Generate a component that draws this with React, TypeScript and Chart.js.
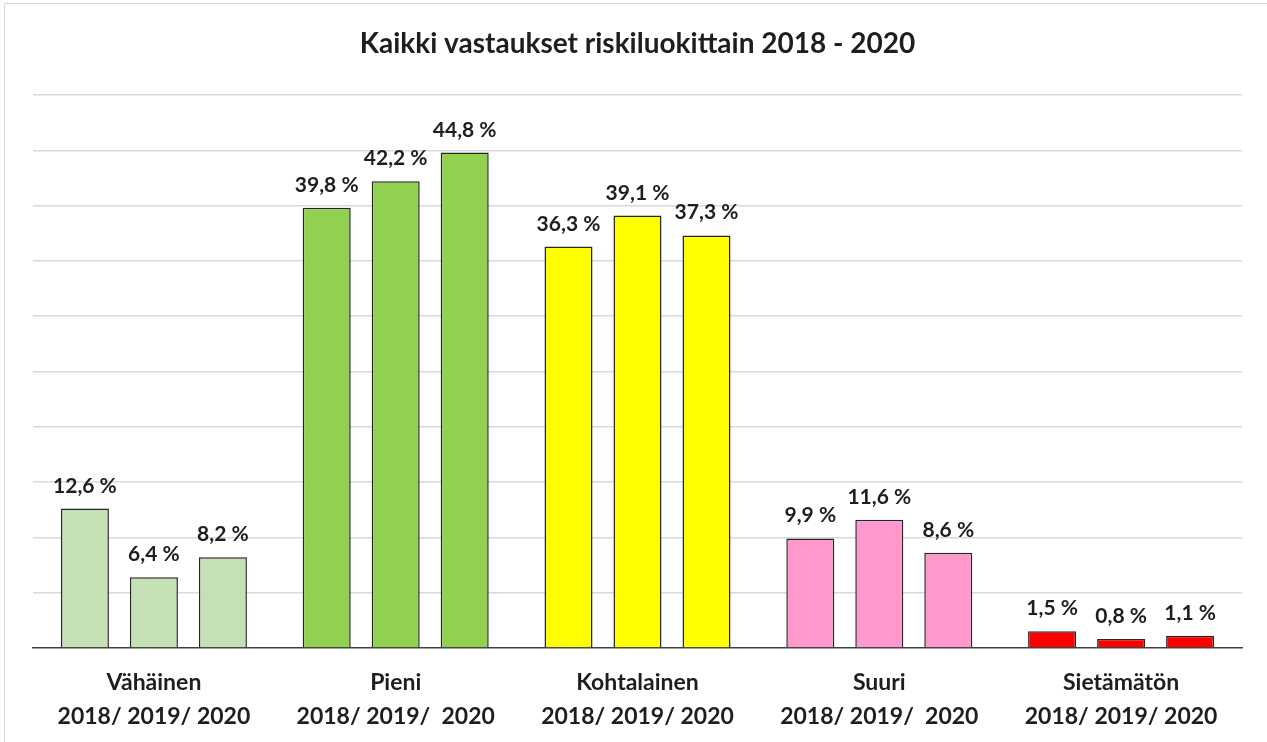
import React, { useEffect, useRef } from "react";
import { Chart, registerables } from "chart.js";

Chart.register(...registerables);

const categories = ["Vähäinen", "Pieni", "Kohtalainen", "Suuri", "Sietämätön"];
const periodLabels = [
  "2018/ 2019/ 2020",
  "2018/ 2019/  2020",
  "2018/ 2019/ 2020",
  "2018/ 2019/  2020",
  "2018/ 2019/ 2020",
];
const years = ["2018", "2019", "2020"];
const values2018 = [12.6, 39.8, 36.3, 9.9, 1.5];
const values2019 = [6.4, 42.2, 39.1, 11.6, 0.8];
const values2020 = [8.2, 44.8, 37.3, 8.6, 1.1];
const categoryColors = ["#C5E0B4", "#92D050", "#FFFF00", "#FF99CC", "#FF0000"];
const titleText = "Kaikki vastaukset riskiluokittain 2018 - 2020";

const FONT = "Lato, 'Open Sans', sans-serif";
const TEXT = "#1E1E1E";

const fmt = (v: number) => v.toFixed(1).replace(".", ",") + " %";

const dataLabelPlugin = {
  id: "dataLabels",
  afterDatasetsDraw(chart: any) {
    const ctx = chart.ctx;
    ctx.save();
    ctx.font = `bold 21px ${FONT}`;
    ctx.fillStyle = TEXT;
    ctx.textAlign = "center";
    ctx.textBaseline = "alphabetic";
    chart.data.datasets.forEach((ds: any, di: number) => {
      const meta = chart.getDatasetMeta(di);
      meta.data.forEach((el: any, i: number) => {
        ctx.fillText(fmt(ds.data[i]), el.x, el.y - 16);
      });
    });
    ctx.restore();
  },
};

export default function App() {
  const canvasRef = useRef<HTMLCanvasElement | null>(null);

  useEffect(() => {
    if (!canvasRef.current) return;
    const seriesValues = [values2018, values2019, values2020];
    const chart = new Chart(canvasRef.current, {
      type: "bar",
      data: {
        labels: categories.map((c, i) => [c, periodLabels[i]]),
        datasets: years.map((y, k) => ({
          label: y,
          data: seriesValues[k],
          backgroundColor: categoryColors,
          borderColor: "#262626",
          borderWidth: 1.5,
          borderSkipped: "bottom",
          categoryPercentage: 0.856,
          barPercentage: 0.696,
        })),
      },
      options: {
        responsive: false,
        animation: false,
        layout: { padding: { left: 33, right: 25, top: 0, bottom: 8 } },
        plugins: {
          legend: { display: false },
          tooltip: { enabled: false },
          title: {
            display: true,
            text: titleText,
            color: TEXT,
            font: { family: FONT, size: 28, weight: "bold" },
            padding: { top: 27.2, bottom: 34.2 },
          },
        },
        scales: {
          x: {
            grid: { display: false, drawTicks: false },
            border: { display: true, color: "#404040", width: 1.5 },
            ticks: {
              color: TEXT,
              padding: 18,
              font: { family: FONT, size: 23, weight: "bold", lineHeight: 1.48 },
              maxRotation: 0,
              autoSkip: false,
            },
          },
          y: {
            min: 0,
            max: 50,
            ticks: { display: false, stepSize: 5 },
            border: { display: false },
            grid: {
              drawTicks: false,
              color: (c: any) => (c.tick && c.tick.value === 0 ? "rgba(0,0,0,0)" : "#D9D9D9"),
              lineWidth: 1.5,
            },
          },
        },
      },
      plugins: [dataLabelPlugin],
    });
    return () => chart.destroy();
  }, []);

  return (
    <div
      style={{
        position: "fixed",
        left: 0,
        top: 0,
        width: 1267,
        height: 742,
        background: "#ffffff",
        overflow: "hidden",
      }}
    >
      <div
        style={{
          position: "absolute",
          left: 4,
          top: 3,
          width: 1280,
          height: 760,
          border: "1.5px solid #D9D9D9",
          boxSizing: "border-box",
        }}
      />
      <canvas
        ref={canvasRef}
        width={1267}
        height={760}
        style={{ position: "absolute", left: 0, top: 0, display: "block" }}
      />
    </div>
  );
}
